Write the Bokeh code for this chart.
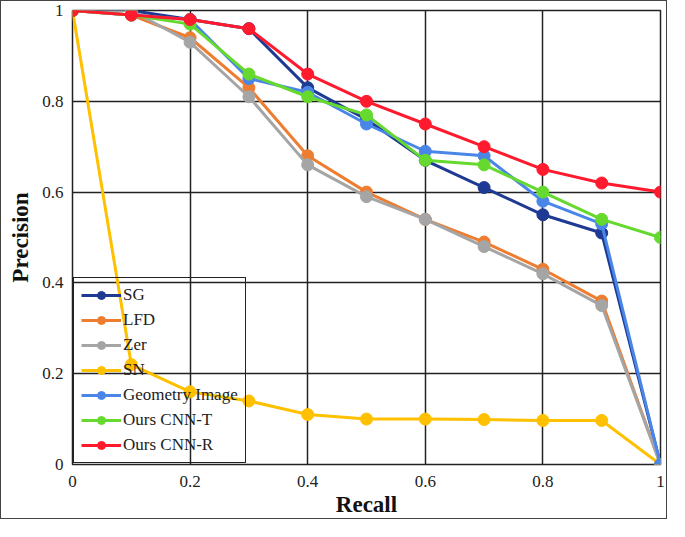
from bokeh.plotting import figure
from bokeh.models import FixedTicker, Legend
from bokeh.embed import file_html
from bokeh.resources import INLINE

recall = [0, 0.1, 0.2, 0.3, 0.4, 0.5, 0.6, 0.7, 0.8, 0.9, 1.0]

sg = [1.0, 1.0, 0.98, 0.96, 0.83, 0.76, 0.67, 0.61, 0.55, 0.51, 0.0]
lfd = [1.0, 0.99, 0.94, 0.83, 0.68, 0.60, 0.54, 0.49, 0.43, 0.36, 0.0]
zer = [1.0, 1.0, 0.93, 0.81, 0.66, 0.59, 0.54, 0.48, 0.42, 0.35, 0.0]
sn = [1.0, 0.22, 0.16, 0.14, 0.11, 0.10, 0.10, 0.099, 0.097, 0.097, 0.0]
geometry_image = [1.0, 0.99, 0.98, 0.85, 0.82, 0.75, 0.69, 0.68, 0.58, 0.53, 0.0]
cnn_t = [1.0, 0.99, 0.97, 0.86, 0.81, 0.77, 0.67, 0.66, 0.60, 0.54, 0.50]
cnn_r = [1.0, 0.99, 0.98, 0.96, 0.86, 0.80, 0.75, 0.70, 0.65, 0.62, 0.60]

series_names = ["SG", "LFD", "Zer", "SN", "Geometry Image", "Ours CNN-T", "Ours CNN-R"]
series_values = [sg, lfd, zer, sn, geometry_image, cnn_t, cnn_r]
series_colors = ["#1F3A93", "#ED7D31", "#A5A5A5", "#FFC000", "#4A86E8", "#66D92E", "#FF1A2E"]

tick_values = [0, 0.2, 0.4, 0.6, 0.8, 1.0]
tick_labels = ["0", "0.2", "0.4", "0.6", "0.8", "1"]

FONT = "Liberation Serif"

p = figure(width=667, height=519, x_range=(0, 1), y_range=(0, 1),
           output_backend="svg", toolbar_location=None,
           min_border_left=71, min_border_right=8, min_border_top=9, min_border_bottom=56,
           styles={"border": "1px solid #444"})

p.outline_line_color = "#222222"
p.outline_line_width = 1.5

for ax in (p.xaxis[0], p.yaxis[0]):
    ax.ticker = FixedTicker(ticks=tick_values)
    ax.major_label_overrides = {v: l for v, l in zip(tick_values, tick_labels)}
    ax.major_tick_out = 0
    ax.major_tick_in = 0
    ax.minor_tick_out = 0
    ax.minor_tick_in = 0
    ax.axis_line_color = None
    ax.major_label_text_font = FONT
    ax.major_label_text_font_size = "17px"
    ax.major_label_text_color = "#222222"
    ax.axis_label_text_font = FONT
    ax.axis_label_text_font_size = "23px"
    ax.axis_label_text_font_style = "bold"
    ax.axis_label_text_color = "#111111"

p.xaxis.axis_label = "Recall"
p.yaxis.axis_label = "Precision"
p.xaxis.major_label_standoff = 11
p.xaxis.axis_label_standoff = 2
p.yaxis.major_label_standoff = 9
p.yaxis.axis_label_standoff = 6

p.xgrid.ticker = FixedTicker(ticks=tick_values)
p.ygrid.ticker = FixedTicker(ticks=tick_values)
for g in (p.xgrid[0], p.ygrid[0]):
    g.grid_line_color = "#222222"
    g.grid_line_width = 1.5

legend = Legend(items=[], location="bottom_left")
p.add_layout(legend)

for name, vals, col in zip(series_names, series_values, series_colors):
    p.line(recall, vals, line_color=col, line_width=3, legend_label=name)
    p.scatter(recall, vals, size=12, fill_color=col, line_color=col, legend_label=name)

lg = p.legend[0]
lg.location = "bottom_left"
lg.margin = 1
lg.padding = 7
lg.spacing = 5
lg.glyph_width = 40
lg.glyph_height = 20
lg.label_height = 20
lg.label_standoff = 2
lg.label_text_font = FONT
lg.label_text_font_size = "17px"
lg.label_text_color = "#222222"
lg.background_fill_alpha = 0
lg.border_line_color = "#222222"
lg.border_line_alpha = 1.0
lg.border_line_width = 1.5

open("out.html", "w").write(file_html(p, INLINE))
